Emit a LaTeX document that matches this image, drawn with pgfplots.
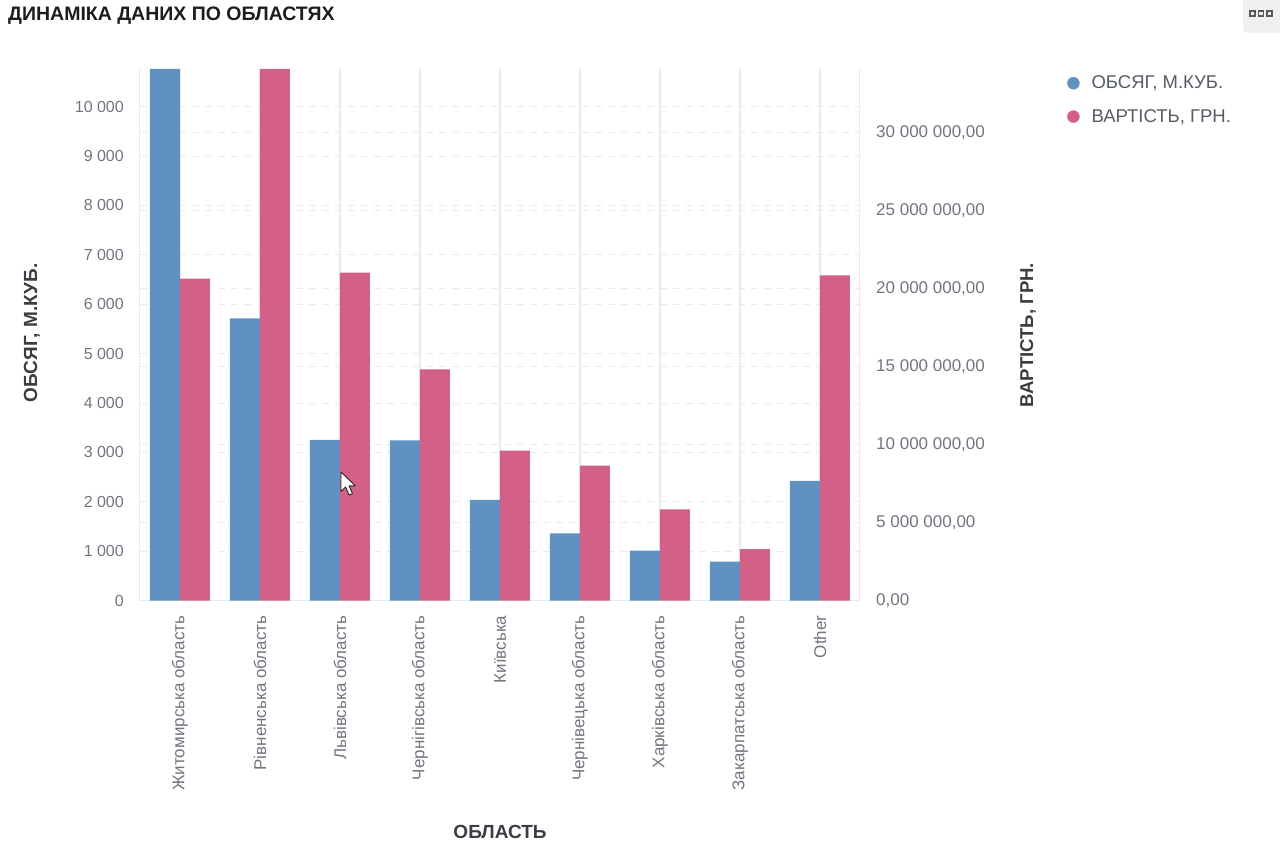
\documentclass[border=0pt]{standalone}
\usepackage{fontspec}
\setmainfont{Liberation Sans}
\usepackage{pgfplots}
\pgfplotsset{compat=1.18}

\definecolor{volblue}{RGB}{96,146,193}
\definecolor{costpink}{RGB}{210,96,135}
\definecolor{ticktext}{RGB}{112,117,128}
\definecolor{gridc}{RGB}{231,234,240}
\definecolor{titletext}{RGB}{28,28,32}
\definecolor{labeltext}{RGB}{58,61,68}
\definecolor{legendtext}{RGB}{86,91,101}

% Volume (m3) and cost (UAH) by region
\pgfplotstableread{
idx volume
0 10760
1 5710
2 3250
3 3240
4 2035
5 1360
6 1010
7 785
8 2420
}\volumedata
\pgfplotstableread{
idx cost
0 20640000
1 34090000
2 21030000
3 14830000
4 9610000
5 8650000
6 5850000
7 3300000
8 20860000
}\costdata

\pgfplotsset{
  basefrm/.style={
    scale only axis, width=720pt, height=531.5pt,
    at={(0pt,0pt)}, anchor=south west,
    xmin=-0.5, xmax=8.5, xtick={0,...,8},
    major tick length=0pt,
    scaled ticks=false,
    ticklabel style={font=\fontsize{16}{19}\selectfont, text=ticktext},
  },
  rightscale/.style={ymin=0, ymax=34090000,
    ytick={0,5000000,10000000,15000000,20000000,25000000,30000000}},
}

\begin{document}
\begin{tikzpicture}

% cost-scale dashed grid, behind everything
\begin{axis}[basefrm, rightscale,
  axis line style={draw=none},
  xticklabels={}, yticklabels={},
  ymajorgrids, major y grid style={gridc, line width=0.8pt, dash pattern=on 7pt off 6pt},
]
\end{axis}

% volume scale with blue bars
\begin{axis}[basefrm,
  ymin=0, ymax=10760,
  ytick={0,1000,2000,3000,4000,5000,6000,7000,8000,9000,10000},
  yticklabels={0,1 000,2 000,3 000,4 000,5 000,6 000,7 000,8 000,9 000,10 000},
  yticklabel style={anchor=east, inner sep=0pt, xshift=-16pt},
  xticklabels={Житомирська область,Рівненська область,Львівська область,Чернігівська область,Київська,Чернівецька область,Харківська область,Закарпатська область,Other},
  xticklabel style={rotate=90, anchor=east, inner sep=0pt, xshift=-15pt, font=\fontsize{17}{20}\selectfont},
  axis x line*=bottom, axis y line*=left,
  axis line style={gridc, line width=1pt, -},
  xmajorgrids, major x grid style={gridc, line width=1.6pt, solid},
  ymajorgrids, major y grid style={gridc, line width=0.8pt, dash pattern=on 7pt off 6pt},
  ybar, bar width=30pt,
]
\addplot[draw=none, fill=volblue, bar shift=-15pt] table[x=idx, y=volume] {\volumedata};
\end{axis}

% cost scale with pink bars
\begin{axis}[basefrm, rightscale,
  axis x line=none, axis y line*=right,
  axis line style={gridc, line width=1pt, -},
  yticklabels={{0,00},{5 000 000,00},{10 000 000,00},{15 000 000,00},{20 000 000,00},{25 000 000,00},{30 000 000,00}},
  yticklabel style={anchor=west, inner sep=0pt, xshift=16pt, font=\fontsize{17}{20}\selectfont},
  ybar, bar width=30pt,
  legend style={at={(1.2875,0.991)}, anchor=north west, draw=none, fill=none,
    font=\fontsize{18.5}{21}\selectfont, text=legendtext, row sep=15pt,
    inner sep=0pt, column sep=10pt},
  legend cell align=left,
]
\addlegendimage{legend image code/.code={\fill[volblue] (0pt,0pt) circle (6pt);}}
\addlegendentry{ОБСЯГ, М.КУБ.}
\addlegendimage{legend image code/.code={\fill[costpink] (0pt,0pt) circle (6pt);}}
\addlegendentry{ВАРТІСТЬ, ГРН.}
\addplot[draw=none, fill=costpink, bar shift=15pt, forget plot] table[x=idx, y=cost] {\costdata};
\end{axis}

% titles and axis names (positions relative to the plot area's lower left corner)
\node[anchor=west, text=titletext, font=\bfseries\fontsize{19.5}{22}\selectfont, inner sep=0pt] at (-132pt,585pt) {ДИНАМІКА ДАНИХ ПО ОБЛАСТЯХ};
\node[rotate=90, text=labeltext, font=\bfseries\fontsize{19}{22}\selectfont, inner sep=0pt] at (-108pt,267.5pt) {ОБСЯГ, М.КУБ.};
\node[rotate=90, text=labeltext, font=\bfseries\fontsize{18.6}{22}\selectfont, inner sep=0pt] at (888pt,265.5pt) {ВАРТІСТЬ, ГРН.};
\node[text=labeltext, font=\bfseries\fontsize{19}{22}\selectfont, inner sep=0pt] at (360pt,-231.5pt) {ОБЛАСТЬ};

% mouse pointer over the chart
\begin{scope}[shift={(201pt,128.5pt)}, x=1.15pt, y=-1.15pt]
  \filldraw[fill=white, draw=black!85, line width=0.9pt, line join=round]
    (0,0) -- (0,17) -- (4,13) -- (7,20) -- (10,18.8) -- (7,12) -- (12.5,12) -- cycle;
\end{scope}

% menu button
\fill[rounded corners=4pt, gray!12] (1103pt,567.5pt) rectangle (1146pt,604.5pt);
\foreach \bx in {1110,1118.5,1127}
  \draw[gray!70!black, line width=1.2pt] (\bx pt,584.5pt) rectangle ++(5pt,5pt);

\pgfresetboundingbox
\path[use as bounding box] (-140pt,-248.5pt) rectangle (1140pt,600.5pt);
\end{tikzpicture}
\end{document}
